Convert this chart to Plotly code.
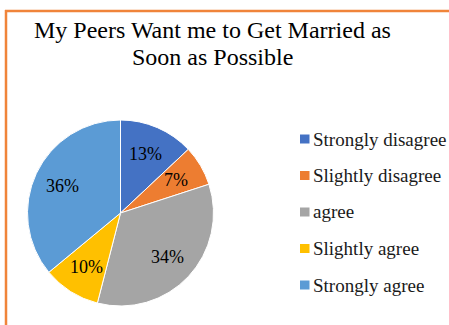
import math
import plotly.graph_objects as go

# Survey responses
categories = ["Strongly disagree", "Slightly disagree", "agree", "Slightly agree", "Strongly agree"]
shares = [13, 7, 34, 10, 36]
colors = ["#4472C4", "#ED7D31", "#A5A5A5", "#FFC000", "#5B9BD5"]
title_lines = ["My Peers Want me to Get Married as", "Soon as Possible"]

W, H = 449, 325
serif = "Liberation Serif"

# Pie geometry in pixels
cx, cy, r = 120.5, 213, 93
label_frac = 0.69

fig = go.Figure()
fig.add_trace(go.Pie(
    labels=categories,
    values=shares,
    marker=dict(colors=colors, line=dict(color="white", width=1)),
    sort=False,
    direction="clockwise",
    rotation=0,
    textinfo="none",
    showlegend=False,
    hoverinfo="label+percent",
    domain=dict(x=[(cx - r) / W, (cx + r) / W], y=[1 - (cy + r) / H, 1 - (cy - r) / H]),
))

shapes = []
annotations = []

# Percentage labels at the middle angle of each slice
total = sum(shares)
cum = 0
for v in shares:
    mid = (cum + v / 2) / total * 2 * math.pi
    cum += v
    px = cx + label_frac * r * math.sin(mid)
    py = cy - label_frac * r * math.cos(mid)
    annotations.append(dict(text=f"{round(v / total * 100)}%", xref="paper", yref="paper",
                            x=px / W, y=1 - py / H, xanchor="center", yanchor="middle",
                            showarrow=False,
                            font=dict(family=serif, size=18, color="black")))

# Legend drawn as swatches with labels
legend_x = 300
legend_top = 139
legend_step = 36.5
for i, (name, col) in enumerate(zip(categories, colors)):
    yc = legend_top + i * legend_step
    shapes.append(dict(type="rect", xref="paper", yref="paper",
                       x0=legend_x / W, x1=(legend_x + 9.5) / W,
                       y0=1 - (yc + 4.5) / H, y1=1 - (yc - 4.5) / H,
                       fillcolor=col, line=dict(width=0)))
    annotations.append(dict(text=name, xref="paper", yref="paper",
                            x=(legend_x + 11) / W, y=1 - yc / H,
                            xanchor="left", yanchor="middle", showarrow=False,
                            font=dict(family=serif, size=19, color="#1a1a1a")))

# Orange frame edges
frame = "#F0843A"
shapes.append(dict(type="line", xref="paper", yref="paper",
                   x0=6 / W, x1=6 / W, y0=0, y1=1 - 10 / H,
                   line=dict(color=frame, width=2.5)))
shapes.append(dict(type="line", xref="paper", yref="paper",
                   x0=5 / W, x1=1, y0=1 - 11 / H, y1=1 - 11 / H,
                   line=dict(color=frame, width=2.5)))

# Two-line title
for i, line in enumerate(title_lines):
    annotations.append(dict(text=line, xref="paper", yref="paper",
                            x=212 / W, y=1 - (30 + 27 * i) / H,
                            xanchor="center", yanchor="middle",
                            showarrow=False,
                            font=dict(family=serif, size=24, color="black")))

fig.update_layout(
    width=W, height=H,
    margin=dict(l=0, r=0, t=0, b=0),
    paper_bgcolor="white",
    plot_bgcolor="white",
    font=dict(family=serif),
    shapes=shapes,
    annotations=annotations,
)

fig.write_html("out.html", config={"displayModeBar": False})
